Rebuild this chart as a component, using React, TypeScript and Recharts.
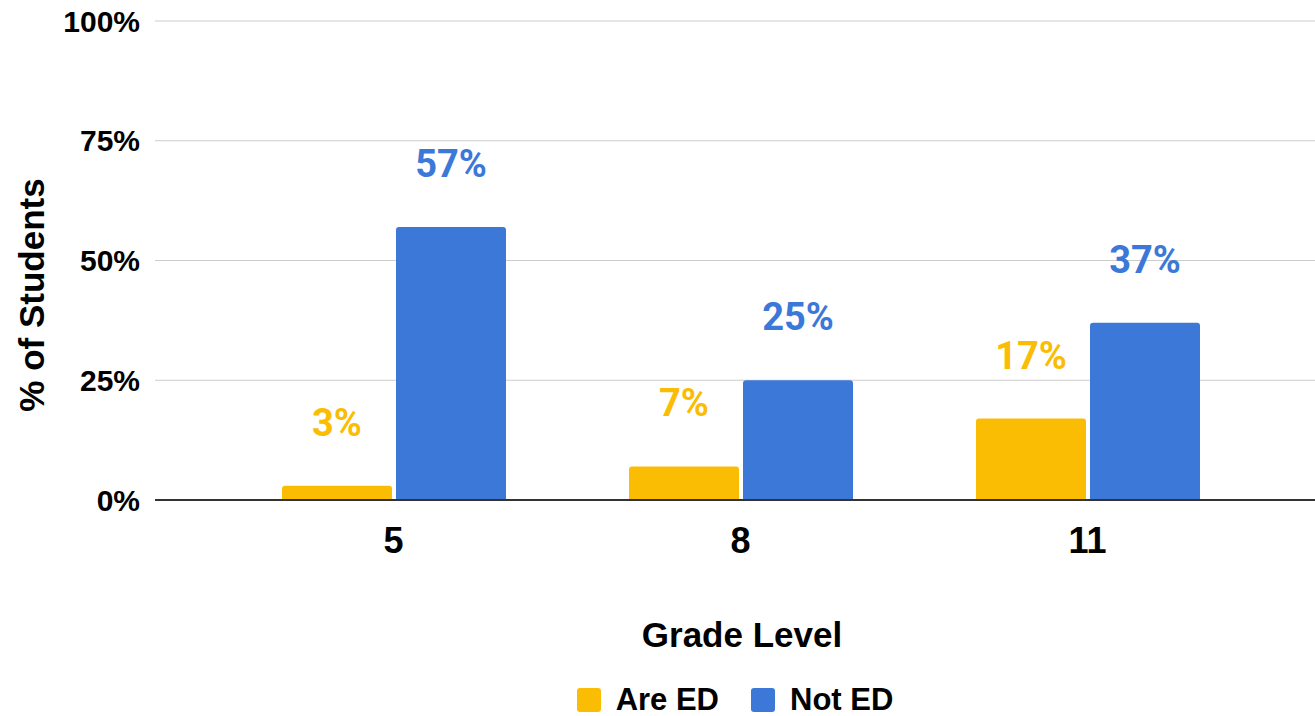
import { BarChart, Bar, XAxis, YAxis, CartesianGrid, Legend, LabelList, Label } from 'recharts';

const grades = ['5', '8', '11'];
const areEd = [3, 7, 17];
const notEd = [57, 25, 37];
const yTicks = [0, 25, 50, 75, 100];

const data = grades.map((grade, i) => ({ grade, areEd: areEd[i], notEd: notEd[i] }));

const FONT = '"Liberation Sans", Arial, sans-serif';
const YELLOW = '#FBBC04';
const BLUE = '#3C78D8';

// Y axis title, rotated, placed next to the tick labels
const YTitle = (props: any) => {
  const { viewBox } = props;
  const x = viewBox.x + 31;
  const y = viewBox.y + 274;
  return (
    <text
      x={x}
      y={y}
      transform={`rotate(-90 ${x} ${y})`}
      textAnchor="middle"
      dominantBaseline="central"
      style={{ fontFamily: FONT, fontSize: 35, fontWeight: 700, fill: '#000' }}
    >
      % of Students
    </text>
  );
};

const renderLegend = ({ payload }: any) => (
  <div
    style={{
      display: 'flex',
      justifyContent: 'center',
      alignItems: 'center',
      height: 32,
      paddingLeft: 155,
      boxSizing: 'border-box',
    }}
  >
    {(payload || []).map((entry: any, i: number) => (
      <div key={i} style={{ display: 'flex', alignItems: 'center', marginLeft: i ? 32 : 0 }}>
        <span
          style={{
            display: 'inline-block',
            width: 24,
            height: 24,
            borderRadius: 3,
            background: entry.color,
            marginRight: 15,
          }}
        />
        <span style={{ fontFamily: FONT, fontSize: 31, fontWeight: 700, color: '#000' }}>{entry.value}</span>
      </div>
    ))}
  </div>
);

export default function App() {
  return (
    <div style={{ position: 'absolute', left: 0, top: 0, background: '#fff', fontFamily: FONT }}>
      <BarChart
        width={1315}
        height={716}
        data={data}
        margin={{ top: 21, right: 0, left: 0, bottom: 0 }}
        barCategoryGap={62}
        barGap={4}
      >
        <CartesianGrid vertical={false} stroke="#cccccc" />
        <XAxis
          dataKey="grade"
          height={184}
          padding={{ left: 65, right: 54 }}
          tickLine={false}
          tickSize={0}
          tickMargin={27}
          axisLine={{ stroke: '#333333', strokeWidth: 2 }}
          tick={{ fontFamily: FONT, fontSize: 36, fontWeight: 700, fill: '#000' }}
        >
          <Label
            value="Grade Level"
            position="insideBottom"
            offset={37}
            dx={7}
            style={{ fontFamily: FONT, fontSize: 35, fontWeight: 700, fill: '#000' }}
          />
        </XAxis>
        <YAxis
          width={155}
          domain={[0, 100]}
          ticks={yTicks}
          tickFormatter={(v: number) => `${v}%`}
          axisLine={false}
          tickLine={false}
          tickSize={0}
          tickMargin={15}
          tick={{ fontFamily: FONT, fontSize: 30, fontWeight: 700, fill: '#000' }}
        >
          <Label content={<YTitle />} />
        </YAxis>
        <Legend verticalAlign="bottom" content={renderLegend} />
        <Bar dataKey="areEd" name="Are ED" fill={YELLOW} radius={[3, 3, 0, 0]} isAnimationActive={false}>
          <LabelList
            dataKey="areEd"
            position="top"
            offset={50}
            formatter={(v: any) => `${v}%`}
            style={{ fontFamily: 'Roboto, sans-serif', fontSize: 38, fontWeight: 700, fill: YELLOW }}
          />
        </Bar>
        <Bar dataKey="notEd" name="Not ED" fill={BLUE} radius={[3, 3, 0, 0]} isAnimationActive={false}>
          <LabelList
            dataKey="notEd"
            position="top"
            offset={50}
            formatter={(v: any) => `${v}%`}
            style={{ fontFamily: 'Roboto, sans-serif', fontSize: 38, fontWeight: 700, fill: BLUE }}
          />
        </Bar>
      </BarChart>
    </div>
  );
}
